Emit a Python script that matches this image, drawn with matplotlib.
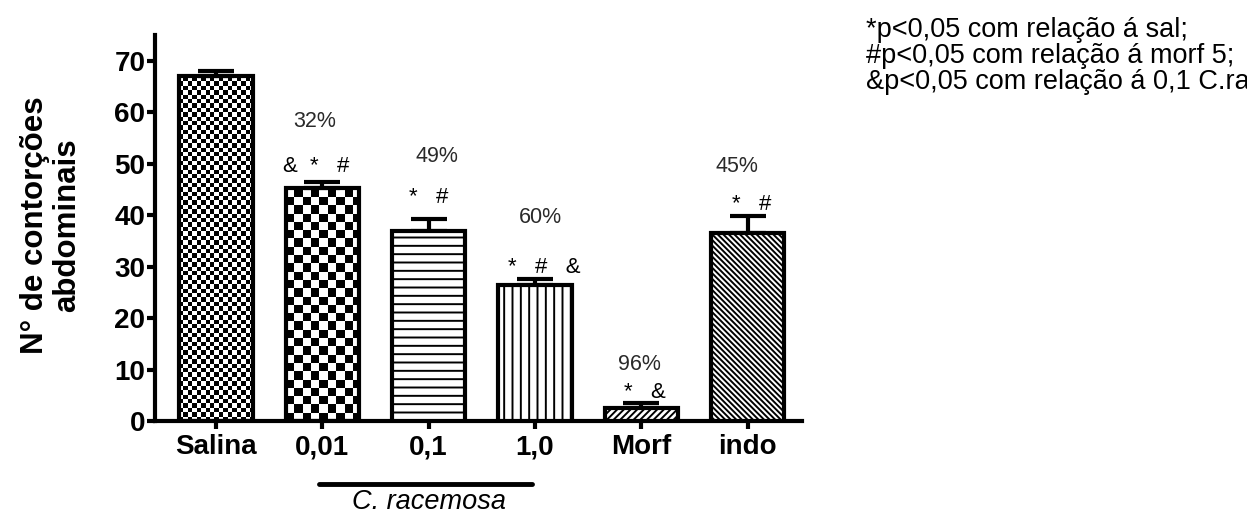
import numpy as np
import matplotlib
matplotlib.use("Agg")
import matplotlib.pyplot as plt
from matplotlib.transforms import blended_transform_factory

# --- data -------------------------------------------------------------
groups = ["Salina", "0,01", "0,1", "1,0", "Morf", "indo"]
means = [67.1, 45.3, 36.9, 26.4, 2.5, 36.6]
sem = [1.0, 1.2, 2.4, 1.2, 1.0, 3.3]
inhibition = ["", "32%", "49%", "60%", "96%", "45%"]
significance = ["", "&  *   #", "*   #", "*   #   &", "*   &", "*   #"]
footnotes = [
    "*p<0,05 com relação á sal;",
    "#p<0,05 com relação á morf 5;",
    "&p<0,05 com relação á 0,1 C.racemosa",
]
extract_name = "C. racemosa"
ylabel = "N° de contorções\nabdominais"
yticks = [0, 10, 20, 30, 40, 50, 60, 70]

# --- layout -----------------------------------------------------------
pct_pos = [None, (0.93, 57.2), (2.08, 50.4), (3.05, 38.5), (3.98, 9.9), (4.90, 48.4)]
sig_pos = [None, (0.94, 48.4), (2.00, 42.4), (3.09, 28.8), (4.03, 4.5), (5.04, 41.0)]
fills = ["checker_fine", "checker", "--", "||", "/////", "\\" * 6]

plt.rcParams["font.family"] = ["Liberation Sans", "DejaVu Sans"]
plt.rcParams["hatch.linewidth"] = 1.4

fig = plt.figure(figsize=(12.47, 5.15), dpi=100)
ax = fig.add_axes([0.1243, 0.1825, 0.5188, 0.749])
ax.set_xlim(-0.573, 5.51)
ax.set_ylim(0, 75)

x = np.arange(len(groups))
bar_w = 0.69
bars = []
for i, (xi, m, f) in enumerate(zip(x, means, fills)):
    is_checker = f.startswith("checker")
    b = ax.bar(xi, m, width=bar_w,
               facecolor="none" if is_checker else "white",
               edgecolor="black", linewidth=3,
               hatch=None if is_checker else f, zorder=3)[0]
    bars.append(b)

# checkerboard fills clipped to their bars
def checker_fill(bar, cell_px):
    x0, y0 = bar.get_x(), bar.get_y()
    w, h = bar.get_width(), bar.get_height()
    p0 = ax.transData.transform((x0, y0))
    p1 = ax.transData.transform((x0 + w, y0 + h))
    wpx, hpx = p1 - p0
    nx = int(np.ceil(wpx / cell_px))
    ny = int(np.ceil(hpx / cell_px))
    grid = np.add.outer(np.arange(ny), np.arange(nx)) % 2
    ext = (x0, x0 + nx * cell_px * w / wpx, y0, y0 + ny * cell_px * h / hpx)
    im = ax.imshow(grid, cmap="gray", extent=ext, origin="lower",
                   interpolation="nearest", aspect="auto", zorder=2)
    im.set_clip_path(bar)

for b, f in zip(bars, fills):
    if f == "checker_fine":
        checker_fill(b, 4.4)
    elif f == "checker":
        checker_fill(b, 8.3)

ax.set_xlim(-0.573, 5.51)
ax.set_ylim(0, 75)

# upper error bars only
ax.errorbar(x, means, yerr=[np.zeros(len(sem)), sem], fmt="none",
            ecolor="black", elinewidth=3, capsize=13, capthick=3, zorder=2.5)

# annotations
for lab, pos in zip(inhibition, pct_pos):
    if pos:
        ax.text(pos[0], pos[1], lab, ha="center", va="baseline",
                fontsize=15.5, color="#2a2a2a")
for lab, pos in zip(significance, sig_pos):
    if pos:
        ax.text(pos[0], pos[1], lab, ha="center", va="baseline",
                fontsize=16, color="black")

# axes styling
for side in ("top", "right"):
    ax.spines[side].set_visible(False)
for side in ("left", "bottom"):
    ax.spines[side].set_linewidth(3)
ax.set_yticks(yticks)
ax.set_yticklabels([str(t) for t in yticks], fontsize=20, fontweight="bold")
ax.set_xticks(x)
ax.set_xticklabels(groups, fontsize=20, fontweight="bold")
ax.tick_params(axis="y", direction="out", length=6, width=3, pad=1)
ax.tick_params(axis="x", direction="out", length=6, width=3, pad=3.5)

fig.text(51 / 1247, 1 - 225 / 515, ylabel, rotation=90, ha="center",
         va="center", multialignment="center", fontsize=22.5,
         fontweight="bold", linespacing=1.1)

# extract group bracket
trans = blended_transform_factory(ax.transData, ax.transAxes)
ax.plot([0.97, 2.97], [-0.163, -0.163], color="black", lw=3.5,
        solid_capstyle="round", transform=trans, clip_on=False)
ax.text(2.0, -(509 - 421) / 386, extract_name, transform=trans, ha="center",
        va="baseline", fontsize=19.5, style="italic")

# footnotes
for k, line in enumerate(footnotes):
    fig.text(866 / 1247, 1 - (37 + 26 * k) / 515, line, ha="left",
             va="baseline", fontsize=19.5)

fig.savefig("out.png", dpi=100)
